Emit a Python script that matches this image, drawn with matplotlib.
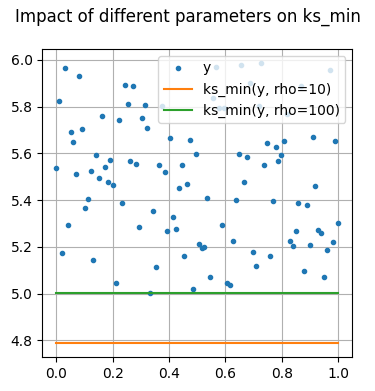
import matplotlib
matplotlib.use("Agg")
import matplotlib.pyplot as plt

x = [round(i / 99, 4) for i in range(100)]
y = [5.536, 5.824, 5.175, 5.966, 5.295, 5.691, 5.648, 5.514, 5.931, 5.703,
     5.368, 5.407, 5.523, 5.145, 5.592, 5.493, 5.759, 5.540, 5.480, 5.570,
     5.463, 5.046, 5.742, 5.390, 5.893, 5.811, 5.566, 5.888, 5.557, 5.287,
     5.751, 5.806, 5.708, 5.005, 5.355, 5.115, 5.549, 5.805, 5.519, 5.269,
     5.665, 5.330, 5.278, 5.451, 5.549, 5.162, 5.471, 5.656, 5.020, 5.596,
     5.214, 5.196, 5.201, 5.411, 5.072, 5.837, 5.970, 5.794, 5.295, 5.794,
     5.046, 5.037, 5.226, 5.403, 5.596, 5.979, 5.479, 5.583, 5.901, 5.179,
     5.119, 5.805, 5.987, 5.549, 5.643, 5.162, 5.398, 5.626, 5.566, 5.592,
     5.652, 5.768, 5.226, 5.205, 5.269, 5.390, 5.888, 5.098, 5.381, 5.209,
     5.669, 5.459, 5.274, 5.261, 5.072, 5.188, 5.957, 5.222, 5.652, 5.304]
ks_rho10 = 4.788
ks_rho100 = 5.002
x_line = [0.0, 1.0]

fig = plt.figure(figsize=(3.75, 3.91), dpi=100)
ax = fig.add_axes([0.1128, 0.0862, 0.8267, 0.7885])
ax.plot(x, y, '.', label='y')
ax.plot(x_line, [ks_rho10, ks_rho10], label='ks_min(y, rho=10)')
ax.plot(x_line, [ks_rho100, ks_rho100], label='ks_min(y, rho=100)')
ax.grid(True)
ax.legend(loc='upper right')
fig.suptitle('Impact of different parameters on ks_min')
fig.savefig('out.png', dpi=100)
